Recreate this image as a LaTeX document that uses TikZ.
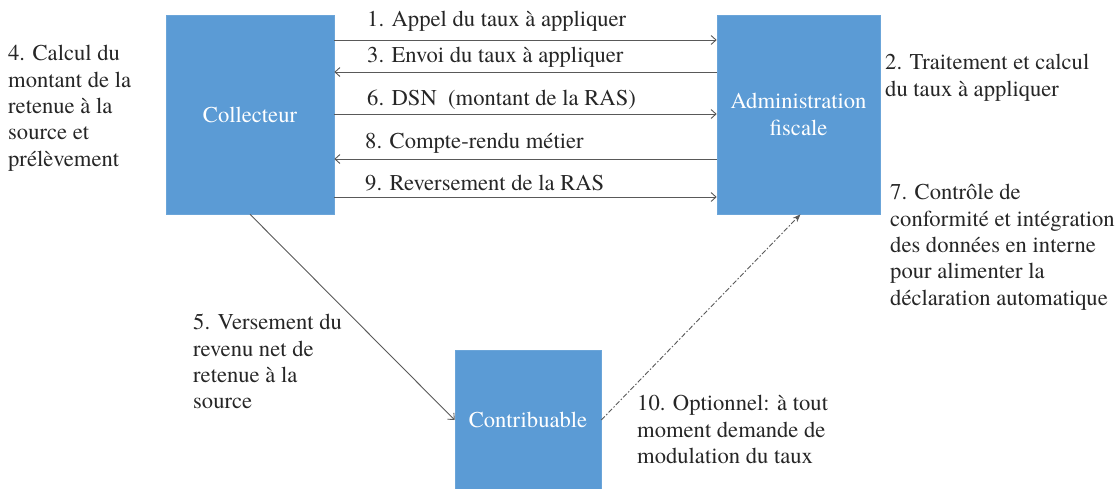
\documentclass[tikz,border=0pt]{standalone}
\usepackage{fontspec}
\newfontfamily\tnr{texgyretermes-regular.otf}
\usetikzlibrary{arrows.meta}
\definecolor{boxblue}{HTML}{5B9BD5}
\definecolor{txt}{HTML}{262626}
\definecolor{linegray}{HTML}{595959}
\newcommand{\fs}{\tnr\fontsize{22.6}{26.4}\selectfont}
\begin{document}
\begin{tikzpicture}[x=1pt,y=-1pt,
  box/.style={fill=boxblue, draw=boxblue!90!white, line width=0.6pt, text=white, align=center, inner sep=0pt, font=\fs},
  lbl/.style={text=txt, align=left, anchor=north west, inner sep=0pt, font=\fs},
  flow/.style={draw=linegray, line width=0.9pt, -{Straight Barb[length=5pt,width=9pt]}},
  opt/.style={draw=linegray, line width=0.9pt, dash pattern=on 5pt off 2pt on 1.5pt off 2pt, -{Stealth[length=8pt,width=6pt]}}
]
\useasboundingbox (0,0) rectangle (1118,488);
\fill[white] (0,0) rectangle (1118,488);

\node[box, minimum width=168pt, minimum height=199pt] (coll) at (250,114.5) {Collecteur};
\node[box, minimum width=163pt, minimum height=199pt] (adm) at (798.5,114.5) {Administration\\fiscale};
\node[box, minimum width=146pt, minimum height=140pt] (contr) at (528,420) {Contribuable};

\draw[flow] (coll.east |- 0,40) -- (adm.west |- 0,40);
\draw[flow] (adm.west |- 0,72) -- (coll.east |- 0,72);
\draw[flow] (coll.east |- 0,114) -- (adm.west |- 0,114);
\draw[flow] (adm.west |- 0,159) -- (coll.east |- 0,159);
\draw[flow] (coll.east |- 0,197) -- (adm.west |- 0,197);

\draw[flow] (coll.south) -- (contr.west);
\draw[opt] (contr.east) -- ([xshift=2pt]adm.south);

\node[lbl] (l1) at (367,11) {1. Appel du taux à appliquer};
\node[lbl] (l3) at (367,47) {3. Envoi du taux à appliquer};
\node[lbl] (l6) at (367,90) {6. DSN\ \ (montant de la RAS)};
\node[lbl] (l8) at (365,133) {8. Compte-rendu métier};
\node[lbl] (l9) at (365,175) {9. Reversement de la RAS};

\node[lbl] (l4) at (8,45) {4. Calcul du\\montant de la\\retenue à la\\source et\\prélèvement};
\node[lbl] (l2) at (885,54) {2. Traitement et calcul\\du taux à appliquer};
\node[lbl] (l7) at (890,184) {7. Contrôle de\\conformité et intégration\\des données en interne\\pour alimenter la\\déclaration automatique};
\node[lbl] (l5) at (193,314) {5. Versement du\\revenu net de\\retenue à la\\source};
\node[lbl] (l10) at (637,395) {10. Optionnel: à tout\\moment demande de\\modulation du taux};
\end{tikzpicture}
\end{document}
